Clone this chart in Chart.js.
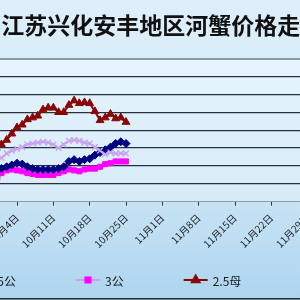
<!DOCTYPE html>
<html>
<head>
<meta charset="utf-8">
<script src="https://cdn.jsdelivr.net/npm/chart.js@4/dist/chart.umd.min.js"></script>
<style>
  html, body { margin: 0; padding: 0; width: 300px; height: 300px; overflow: hidden; background: #dcedf9; }
  #wrap { position: absolute; left: -60px; top: 0; width: 466px; height: 300px; }
</style>
</head>
<body>
<div id="wrap"><canvas id="c" width="466" height="300"></canvas></div>
<script>
// daily prices (y axis itself is cropped away)
const dates = ['09-30', '10-01', '10-02', '10-03', '10-04', '10-05', '10-06', '10-07', '10-08', '10-09',
  '10-10', '10-11', '10-12', '10-13', '10-14', '10-15', '10-16', '10-17', '10-18', '10-19',
  '10-20', '10-21', '10-22', '10-23', '10-24', '10-25'];
const seriesNames = ['4公', '3.5公', '3公', '2.5母'];
const gong4 = [23, 24.5, 27, 28.5, 29.5, 30.5, 32, 32.5, 33, 33.5, 33, 32, 30, 32, 34, 34.5, 34, 33, 32.5, 30.5, 28.5, 26.5, 27.5, 27, 27, 27];
const gong35 = [18, 18.5, 19.5, 20.5, 21.5, 21, 19.5, 18.5, 18, 18, 18, 18, 18.5, 19.5, 22.5, 23.5, 22.5, 23.5, 24, 26, 27.5, 29, 30.5, 32.5, 33.5, 32.5];
const gong3 = [6, 16, 17.5, 18, 17.5, 17, 16, 15.5, 15, 15, 15, 15, 16, 17, 18, 17.5, 17, 18, 18.5, 18.5, 19.5, 21, 21.5, 22.5, 22.5, 22.5];
const mu25 = [30, 32, 34.5, 38, 41.5, 43, 46, 47, 48, 51.5, 52.5, 52.5, 50, 50, 54, 56.5, 55, 55.5, 55, 50.5, 45.5, 47, 49, 46.5, 47, 44.5];

const baseDay = new Date(2009, 9, 4);
function dayOffset(s) {
  const [m, d] = s.split('-').map(Number);
  return Math.round((new Date(2009, m - 1, d) - baseDay) / 864e5);
}
function dayLabel(v) {
  const d = new Date(2009, 9, 4 + v);
  return (d.getMonth() + 1) + '月' + d.getDate() + '日';
}
const pts = arr => arr.map((y, i) => ({ x: dayOffset(dates[i]), y: y }));

const cjk = '"Noto Sans CJK SC", "Noto Sans", sans-serif';

const bgPlugin = {
  id: 'bg',
  beforeDraw(chart) {
    const { ctx, width, height, chartArea: a } = chart;
    ctx.save();
    let g = ctx.createLinearGradient(0, 0, 0, height);
    g.addColorStop(0, '#deeffa');
    g.addColorStop(0.6, '#cde6f6');
    g.addColorStop(1, '#add5ef');
    ctx.fillStyle = g;
    ctx.fillRect(0, 0, width, height);
    g = ctx.createLinearGradient(0, a.top, 0, a.bottom);
    g.addColorStop(0, '#e6f4fd');
    g.addColorStop(1, '#d6ebf8');
    ctx.fillStyle = g;
    ctx.fillRect(a.left, a.top, a.right - a.left, a.bottom - a.top);
    ctx.restore();
  },
  afterDraw(chart) {
    const { ctx, width, height } = chart;
    ctx.save();
    ctx.strokeStyle = '#2a2f35';
    ctx.lineWidth = 1.5;
    ctx.strokeRect(0.75, -10, width - 1.5, height - 1.25 + 10);
    ctx.restore();
  }
};

// legend drawn as line + marker like the original
const lineLegend = {
  id: 'lineLegend',
  afterDraw(chart, args, opts) {
    const { ctx, chartArea } = chart;
    ctx.save();
    ctx.font = '12px ' + cjk;
    ctx.textBaseline = 'middle';
    let x = chartArea.left + opts.shift;
    const y = opts.y;
    chart.data.datasets.forEach(ds => {
      ctx.strokeStyle = ds.borderColor;
      ctx.lineWidth = 2;
      ctx.beginPath();
      ctx.moveTo(x, y);
      ctx.lineTo(x + 24, y);
      ctx.stroke();
      ctx.fillStyle = ds.pointBackgroundColor;
      ctx.strokeStyle = ds.pointBorderColor;
      Chart.helpers.drawPoint(ctx, { pointStyle: ds.pointStyle, radius: ds.pointRadius, rotation: 0, borderWidth: ds.pointBorderWidth }, x + 12, y);
      ctx.fillStyle = '#1a1a1a';
      ctx.fillText(ds.label, x + 29, y + 1);
      x += 29 + ctx.measureText(ds.label).width + 60;
    });
    ctx.restore();
  }
};

new Chart(document.getElementById('c'), {
  type: 'line',
  data: {
    datasets: [
      { label: seriesNames[0], data: pts(gong4), borderColor: '#c8a2ef', borderWidth: 2,
        pointStyle: 'crossRot', pointRadius: 4, pointBorderColor: '#c8a2ef', pointBackgroundColor: '#c8a2ef', pointBorderWidth: 1.3 },
      { label: seriesNames[1], data: pts(gong35), borderColor: '#000080', borderWidth: 2,
        pointStyle: 'rectRot', pointRadius: 4, pointBorderColor: '#000080', pointBackgroundColor: '#000080', pointBorderWidth: 1 },
      { label: seriesNames[2], data: pts(gong3), borderColor: '#c8a2ef', borderWidth: 2,
        pointStyle: 'rect', pointRadius: 3.6, pointBorderColor: '#ff00ff', pointBackgroundColor: '#ff00ff', pointBorderWidth: 1 },
      { label: seriesNames[3], data: pts(mu25), borderColor: '#880808', borderWidth: 2,
        pointStyle: 'triangle', pointRadius: 4.5, pointBorderColor: '#880808', pointBackgroundColor: '#880808', pointBorderWidth: 1 }
    ]
  },
  options: {
    responsive: false,
    animation: false,
    layout: { padding: { left: 40.7, right: 62, top: 0, bottom: 44 } },
    plugins: {
      legend: { display: false },
      tooltip: { enabled: false },
      title: {
        display: true,
        text: '江苏兴化安丰地区河蟹价格走势',
        color: '#111',
        font: { family: cjk, size: 23, weight: 'bold' },
        padding: { top: 11.5, bottom: 19.5 }
      },
      lineLegend: { shift: -130, y: 280 }
    },
    scales: {
      x: {
        type: 'linear',
        min: -7,
        max: 63,
        ticks: {
          stepSize: 7, autoSkip: false, minRotation: 45, maxRotation: 45, padding: 6,
          color: '#222', font: { family: cjk, size: 10 },
          callback: v => dayLabel(v)
        },
        grid: { drawOnChartArea: false, drawTicks: true, tickLength: 4, color: '#333' },
        border: { display: true, color: '#8a9aa8', width: 1 }
      },
      y: {
        min: 0,
        max: 80,
        ticks: { display: false, stepSize: 10 },
        grid: {
          drawTicks: false,
          color: c => c.tick.value === 80 ? '#8d99a3' : (c.tick.value === 0 ? 'rgba(0,0,0,0)' : '#27323d'),
          lineWidth: c => c.tick.value === 80 ? 2 : 1.2
        },
        border: { display: false }
      }
    }
  },
  plugins: [bgPlugin, lineLegend]
});
</script>
</body>
</html>
